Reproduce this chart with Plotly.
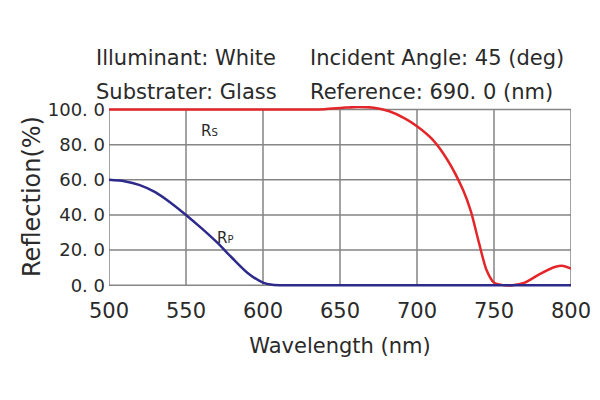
import plotly.graph_objects as go

# wavelength (nm) and reflection (%)
wl_s = [500, 560, 620, 640, 652, 662, 672, 682, 692, 700, 710, 720, 730, 735,
        740, 745, 750, 755, 762, 770, 780, 790, 795, 800]
rs = [100, 100, 100, 100.2, 101, 101.5, 101, 99, 95, 90.5, 83, 71, 54, 42,
      25, 9, 1.5, 0.2, 0, 1.5, 6.5, 10.5, 11, 9.5]

wl_p = [500, 510, 520, 530, 540, 550, 560, 570, 580, 590, 600,
        606, 615, 650, 700, 750, 800]
rp = [60, 59.2, 57, 53, 47, 40, 32.5, 24.5, 15.5, 7, 1.5,
      0.3, 0, 0, 0, 0, 0]

x_ticks = [500, 550, 600, 650, 700, 750, 800]
y_ticks = [0, 20, 40, 60, 80, 100]
y_labels = ["0. 0", "20. 0", "40. 0", "60. 0", "80. 0", "100. 0"]

grid_col = "#858585"
txt_col = "#2a2a2a"
font = "DejaVu Sans, sans-serif"

fig = go.Figure()
fig.add_trace(go.Scatter(x=wl_s, y=rs, mode="lines", hoverinfo="skip",
                         line=dict(color="#e3262a", width=2.5, shape="spline", smoothing=0.7)))
fig.add_trace(go.Scatter(x=wl_p, y=rp, mode="lines", hoverinfo="skip",
                         line=dict(color="#2e2a8c", width=2.5, shape="spline", smoothing=0.7)))

# grid drawn in data coordinates so it stops at 0..100
shapes = []
for xv in x_ticks:
    shapes.append(dict(type="line", xref="x", yref="y", x0=xv, x1=xv, y0=0, y1=100,
                       line=dict(color=grid_col, width=1.5), layer="below"))
for yv in y_ticks:
    shapes.append(dict(type="line", xref="x", yref="y", x0=500, x1=800, y0=yv, y1=yv,
                       line=dict(color=grid_col, width=1.5), layer="below"))

head = dict(size=21, color=txt_col, family=font)
annotations = [
    dict(text="Illuminant: White", x=-0.032, y=1.264, xanchor="left", yanchor="middle", font=head),
    dict(text="Incident Angle: 45 (deg)", x=0.431, y=1.264, xanchor="left", yanchor="middle", font=head),
    dict(text="Substrater: Glass", x=-0.032, y=1.075, xanchor="left", yanchor="middle", font=head),
    dict(text="Reference: 690. 0 (nm)", x=0.431, y=1.075, xanchor="left", yanchor="middle", font=head),
]
for a in annotations:
    a.update(xref="paper", yref="paper", showarrow=False)

annotations += [
    dict(text="R<span style='font-size:10px'>S</span>", x=565, y=88, xref="x", yref="y",
         showarrow=False, font=dict(size=15, color=txt_col, family=font)),
    dict(text="R<span style='font-size:10px'>P</span>", x=575, y=27, xref="x", yref="y",
         showarrow=False, font=dict(size=15, color=txt_col, family=font)),
]

# page body has an 8px margin, so the figure is a bit smaller than the window
fig.update_layout(
    width=592, height=392,
    margin=dict(l=101, r=29, t=98, b=113),
    paper_bgcolor="white", plot_bgcolor="white",
    showlegend=False,
    shapes=shapes,
    annotations=annotations,
    font=dict(family=font, color=txt_col),
)
fig.update_xaxes(range=[500, 800], tickvals=x_ticks, showgrid=False, zeroline=False,
                 showline=False, ticks="", ticklabelstandoff=9, automargin=False,
                 tickfont=dict(size=21, color=txt_col),
                 title=dict(text="Wavelength (nm)", font=dict(size=21, color=txt_col), standoff=16))
fig.update_yaxes(range=[-1, 102], tickvals=y_ticks, ticktext=y_labels, showgrid=False, zeroline=False,
                 showline=False, ticks="", ticklabelstandoff=3, automargin=False,
                 tickfont=dict(size=18, color=txt_col),
                 title=dict(text="Reflection(%)", font=dict(size=24, color=txt_col), standoff=0))

fig.write_html("out.html")
